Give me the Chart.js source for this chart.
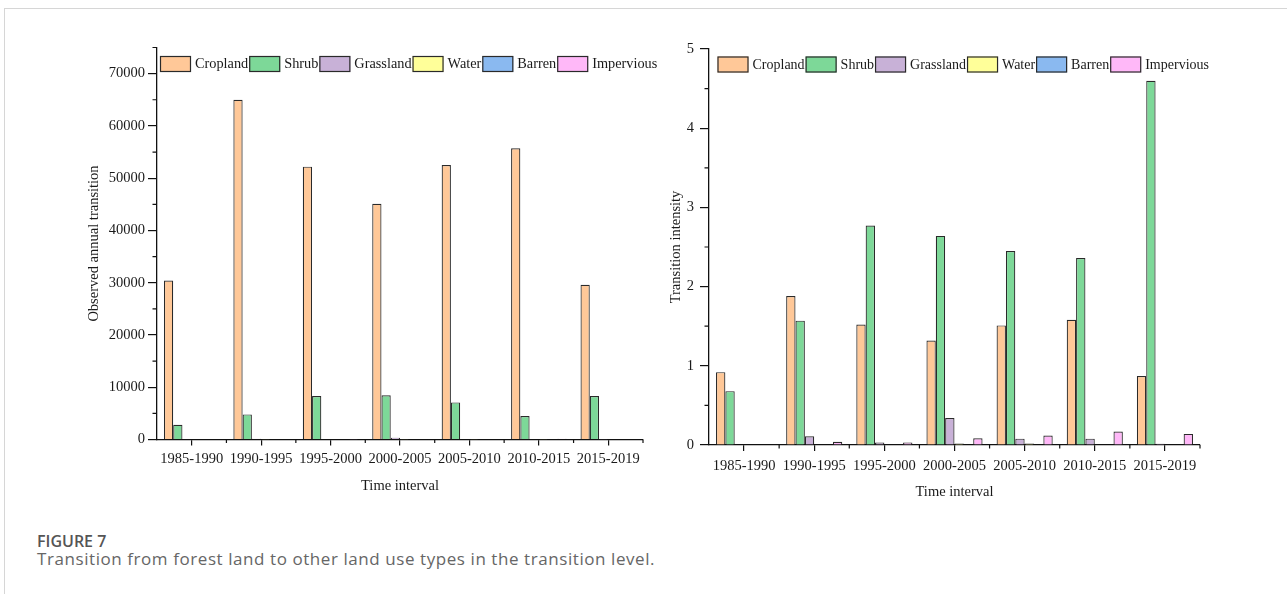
<!DOCTYPE html>
<html>
<head>
<meta charset="utf-8">
<title>Figure 7</title>
<script src="https://cdn.jsdelivr.net/npm/chart.js@4.4.0/dist/chart.umd.min.js"></script>
<style>
  body { margin: 0; background: #fff; width: 1287px; height: 594px; overflow: hidden; position: relative; }
  #frame { position: absolute; left: 4px; top: 8px; width: 1300px; height: 620px; border: 1px solid #d6d6d6; }
  #annual { position: absolute; left: 0; top: 0; }
  #intensity { position: absolute; left: 660px; top: 0; }
  .fig { position: absolute; left: 37px; top: 530px; font-family: "Open Sans", sans-serif; font-weight: 600; font-size: 16px; color: #555; }
  .cap { position: absolute; left: 37px; top: 547px; font-family: "Open Sans", sans-serif; font-size: 17px; letter-spacing: 0.57px; color: #666; }
</style>
</head>
<body>
<div id="frame"></div>
<canvas id="annual" width="660" height="520"></canvas>
<canvas id="intensity" width="627" height="520"></canvas>
<div class="fig">FIGURE 7</div>
<div class="cap">Transition from forest land to other land use types in the transition level.</div>
<script>
// ---- data ----
const intervals = ['1985-1990', '1990-1995', '1995-2000', '2000-2005', '2005-2010', '2010-2015', '2015-2019'];
const landTypes = ['Cropland', 'Shrub', 'Grassland', 'Water', 'Barren', 'Impervious'];

// observed annual transition (left)
const annualCropland   = [30400, 65000, 52200, 45100, 52500, 55700, 29600];
const annualShrub      = [2800, 4800, 8300, 8450, 7100, 4500, 8300];
const annualGrassland  = [0, 150, 30, 350, 60, 40, 20];
const annualWater      = [0, 10, 0, 20, 20, 10, 0];
const annualBarren     = [0, 0, 0, 0, 0, 0, 0];
const annualImpervious = [0, 30, 20, 60, 90, 130, 110];

// transition intensity (right)
const intCropland   = [0.92, 1.88, 1.52, 1.32, 1.51, 1.58, 0.87];
const intShrub      = [0.68, 1.57, 2.77, 2.64, 2.45, 2.36, 4.60];
const intGrassland  = [0, 0.11, 0.03, 0.34, 0.08, 0.08, 0.015];
const intWater      = [0, 0.005, 0, 0.02, 0.02, 0.005, 0];
const intBarren     = [0, 0, 0, 0, 0, 0, 0];
const intImpervious = [0, 0.04, 0.03, 0.085, 0.12, 0.17, 0.14];

// axis ticks
const annualTicks = [0, 10000, 20000, 30000, 40000, 50000, 60000, 70000];
const annualMax = 75000;
const intTicks = [0, 1, 2, 3, 4, 5];
const intMax = 5;

const fills = ['#ffc898', '#7dd898', '#c8b1d7', '#ffff99', '#8ab9f0', '#ffb8f8'];

Chart.defaults.font.family = '"Liberation Serif", "Times New Roman", serif';
Chart.defaults.font.size = 14.5;
Chart.defaults.color = '#1a1a1a';

function makeSets(series) {
  return series.map(function (vals, i) {
    return {
      label: landTypes[i],
      data: vals,
      backgroundColor: fills[i],
      borderColor: '#2a2a2a',
      borderWidth: 1.2,
      categoryPercentage: 0.8,
      barPercentage: 1.0
    };
  });
}

//----- minor ticks + legend inside the plot -----//
const extras = {
  id: 'extras',
  afterDraw(chart, args, opts) {
    const ctx = chart.ctx, xs = chart.scales.x, ys = chart.scales.y, a = chart.chartArea;
    ctx.save();
    ctx.strokeStyle = '#111';
    ctx.lineWidth = 1.2;
    ctx.beginPath();
    for (let v = opts.step / 2; v <= ys.max + 1e-9; v += opts.step) {
      const py = ys.getPixelForValue(v);
      ctx.moveTo(a.left - 4.5, py);
      ctx.lineTo(a.left, py);
    }
    const n = chart.data.labels.length;
    for (let i = 1; i <= n; i++) {
      const px = xs.getPixelForValue(i - 0.5);
      ctx.moveTo(px, a.bottom);
      ctx.lineTo(px, a.bottom + 3.5);
    }
    ctx.stroke();

    // legend
    ctx.font = opts.legendFont + 'px "Liberation Serif"';
    ctx.textBaseline = 'middle';
    ctx.textAlign = 'left';
    let lx = a.left + opts.legendX;
    const ly = opts.legendY;
    chart.data.datasets.forEach(function (ds) {
      ctx.fillStyle = ds.backgroundColor;
      ctx.fillRect(lx, ly, 31, 16);
      ctx.strokeStyle = '#2a2a2a';
      ctx.lineWidth = 1.2;
      ctx.strokeRect(lx + 0.5, ly + 0.5, 30, 15);
      lx += 35;
      ctx.fillStyle = '#1a1a1a';
      ctx.fillText(ds.label, lx, ly + 8.5);
      lx += ctx.measureText(ds.label).width + 1;
    });
    ctx.restore();
  }
};

function makeChart(id, series, yTicks, yMax, yTitle, cfg) {
  return new Chart(document.getElementById(id), {
    type: 'bar',
    data: { labels: intervals, datasets: makeSets(series) },
    plugins: [extras],
    options: {
      responsive: false,
      animation: false,
      layout: { padding: { top: cfg.top, right: cfg.right, left: 0, bottom: 0 } },
      plugins: {
        legend: { display: false },
        tooltip: { enabled: false },
        extras: { step: yTicks[1] - yTicks[0], legendX: cfg.legendX, legendY: cfg.legendY, legendFont: cfg.legendFont }
      },
      scales: {
        x: {
          grid: { drawOnChartArea: false, offset: false, tickLength: 6, color: '#111', lineWidth: 1.2 },
          border: { color: '#111', width: 1.3 },
          ticks: { maxRotation: 0, autoSkip: false, padding: cfg.xPad },
          title: { display: true, text: 'Time interval', padding: { top: 0, bottom: cfg.xTitlePad } },
          afterFit: function (s) { s.height = cfg.xHeight; }
        },
        y: {
          min: 0,
          max: yMax,
          grid: { drawOnChartArea: false, tickLength: 9, color: '#111', lineWidth: 1.2 },
          border: { color: '#111', width: 1.3 },
          ticks: { autoSkip: false, padding: cfg.yPad, callback: function (v) { return String(v); } },
          afterBuildTicks: function (s) { s.ticks = yTicks.map(function (v) { return { value: v }; }); },
          title: { display: true, text: yTitle, padding: { top: cfg.yTitlePad, bottom: 0 } },
          afterFit: function (s) { s.width = cfg.yWidth; }
        }
      }
    }
  });
}

makeChart('annual',
  [annualCropland, annualShrub, annualGrassland, annualWater, annualBarren, annualImpervious],
  annualTicks, annualMax, 'Observed annual transition',
  { top: 47.5, right: 17, yWidth: 157, xHeight: 80.5, xPad: 5, yPad: 3, xTitlePad: 25.3, yTitlePad: 85.3, legendX: 3, legendY: 56, legendFont: 14.3 });

makeChart('intensity',
  [intCropland, intShrub, intGrassland, intWater, intBarren, intImpervious],
  intTicks, intMax, 'Transition intensity',
  { top: 49, right: 87, yWidth: 49, xHeight: 75, xPad: 6, yPad: 6, xTitlePad: 19.6, yTitlePad: 7.3, legendX: 8.5, legendY: 56.5, legendFont: 14 });
</script>
</body>
</html>
